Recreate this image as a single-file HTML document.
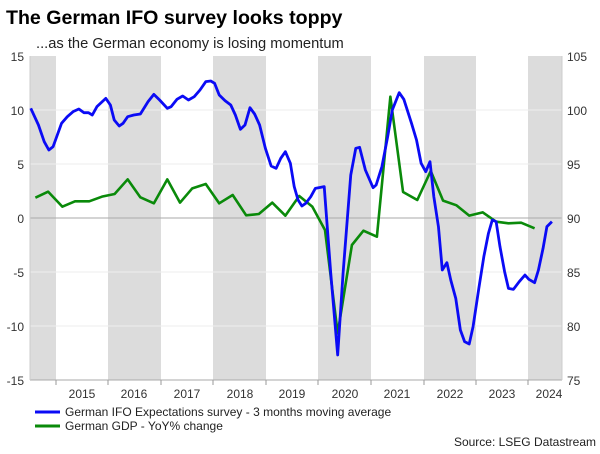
<!DOCTYPE html>
<html><head><meta charset="utf-8"><style>
body{margin:0;background:#fff;width:600px;height:449px;overflow:hidden;font-family:"Liberation Sans",Arial,sans-serif}
</style></head><body>
<svg width="600" height="449" xmlns="http://www.w3.org/2000/svg" font-family="Liberation Sans, Arial, sans-serif">
<text x="6" y="24" font-size="19.6" font-weight="bold" fill="#000">The German IFO survey looks toppy</text>
<text x="36" y="48" font-size="14.7" fill="#222">...as the German economy is losing momentum</text>
<g fill="#dcdcdc">
<rect x="30" y="56" width="26" height="324"/>
<rect x="108" y="56" width="53" height="324"/>
<rect x="213" y="56" width="53" height="324"/>
<rect x="318" y="56" width="53" height="324"/>
<rect x="424" y="56" width="52" height="324"/>
<rect x="528" y="56" width="34" height="324"/>
</g>
<g stroke="#eeeeee" stroke-width="1">
<line x1="30" x2="562" y1="110" y2="110"/><line x1="30" x2="562" y1="164" y2="164"/>
<line x1="30" x2="562" y1="272" y2="272"/><line x1="30" x2="562" y1="326" y2="326"/>
</g>
<line x1="30" x2="562" y1="218" y2="218" stroke="#aaa"/>
<line x1="30" x2="562" y1="380" y2="380" stroke="#aaa"/>
<line x1="30" x2="30" y1="56" y2="380" stroke="#ccc"/>
<line x1="562" x2="562" y1="56" y2="380" stroke="#ccc"/>
<g stroke="#999"><line x1="56" x2="56" y1="380" y2="385"/><line x1="108" x2="108" y1="380" y2="385"/><line x1="161" x2="161" y1="380" y2="385"/><line x1="213" x2="213" y1="380" y2="385"/><line x1="266" x2="266" y1="380" y2="385"/><line x1="318" x2="318" y1="380" y2="385"/><line x1="371" x2="371" y1="380" y2="385"/><line x1="424" x2="424" y1="380" y2="385"/><line x1="476" x2="476" y1="380" y2="385"/><line x1="528" x2="528" y1="380" y2="385"/></g>
<g font-size="12" fill="#333" text-anchor="end">
<text x="24" y="61">15</text><text x="24" y="115">10</text><text x="24" y="169">5</text><text x="24" y="223">0</text><text x="24" y="277">-5</text><text x="24" y="331">-10</text><text x="24" y="385">-15</text>
</g>
<g font-size="12" fill="#333">
<text x="567" y="61">105</text><text x="567" y="115">100</text><text x="567" y="169">95</text><text x="567" y="223">90</text><text x="567" y="277">85</text><text x="567" y="331">80</text><text x="567" y="385">75</text>
</g>
<g font-size="12" fill="#333" text-anchor="middle">
<text x="82" y="398">2015</text><text x="134" y="398">2016</text><text x="187" y="398">2017</text><text x="240" y="398">2018</text><text x="292" y="398">2019</text><text x="345" y="398">2020</text><text x="397" y="398">2021</text><text x="450" y="398">2022</text><text x="502" y="398">2023</text><text x="549" y="398">2024</text>
</g>
<g transform="translate(0,40) scale(0.3846,0.33333)" fill="none" stroke-linejoin="round">
<polyline vector-effect="non-scaling-stroke" stroke="#0a8a0a" stroke-width="2.6" points="92,473 125,455 162,500 195,484 232,484 265,470 298,462 332,418 365,472 400,490 435,418 468,488 500,445 535,432 570,490 605,465 640,526 673,522 708,488 742,527 778,468 812,500 845,570 878,880 915,615 945,572 980,590 1015,170 1048,456 1085,480 1120,393 1152,482 1187,496 1220,527 1255,517 1290,545 1322,550 1355,548 1390,565"/>
<polyline vector-effect="non-scaling-stroke" stroke="#0b0bf5" stroke-width="2.8" points="80,205 100,255 115,305 127,330 138,320 160,250 175,230 190,215 205,207 218,218 230,218 240,225 252,200 275,175 287,195 297,240 310,258 320,250 332,230 348,225 365,222 385,185 400,163 415,180 435,205 445,200 460,178 475,168 490,180 505,170 520,150 535,125 548,123 558,130 570,165 585,182 600,195 612,225 625,268 637,255 650,203 662,222 675,255 690,325 705,378 718,385 730,355 742,335 755,370 765,440 775,480 785,498 795,490 808,470 820,445 843,440 860,700 878,945 892,700 912,405 925,325 935,322 950,390 970,443 978,435 993,380 1008,290 1020,210 1038,158 1050,178 1070,250 1083,300 1095,370 1107,395 1118,365 1128,470 1140,560 1150,690 1162,668 1172,720 1185,775 1197,870 1208,905 1220,912 1230,860 1245,745 1258,650 1270,580 1280,540 1290,545 1300,620 1312,695 1322,745 1335,748 1350,725 1365,705 1375,718 1390,728 1400,690 1412,625 1422,560 1428,553 1435,545"/>
</g>
<line x1="35" x2="60" y1="412" y2="412" stroke="#0b0bf5" stroke-width="3"/>
<line x1="35" x2="60" y1="426" y2="426" stroke="#0a8a0a" stroke-width="3"/>
<g font-size="12" fill="#222">
<text x="65" y="416">German IFO Expectations survey - 3 months moving average</text>
<text x="65" y="430">German GDP - YoY% change</text>
<text x="596" y="446" text-anchor="end">Source: LSEG Datastream</text>
</g>
</svg>
</body></html>
